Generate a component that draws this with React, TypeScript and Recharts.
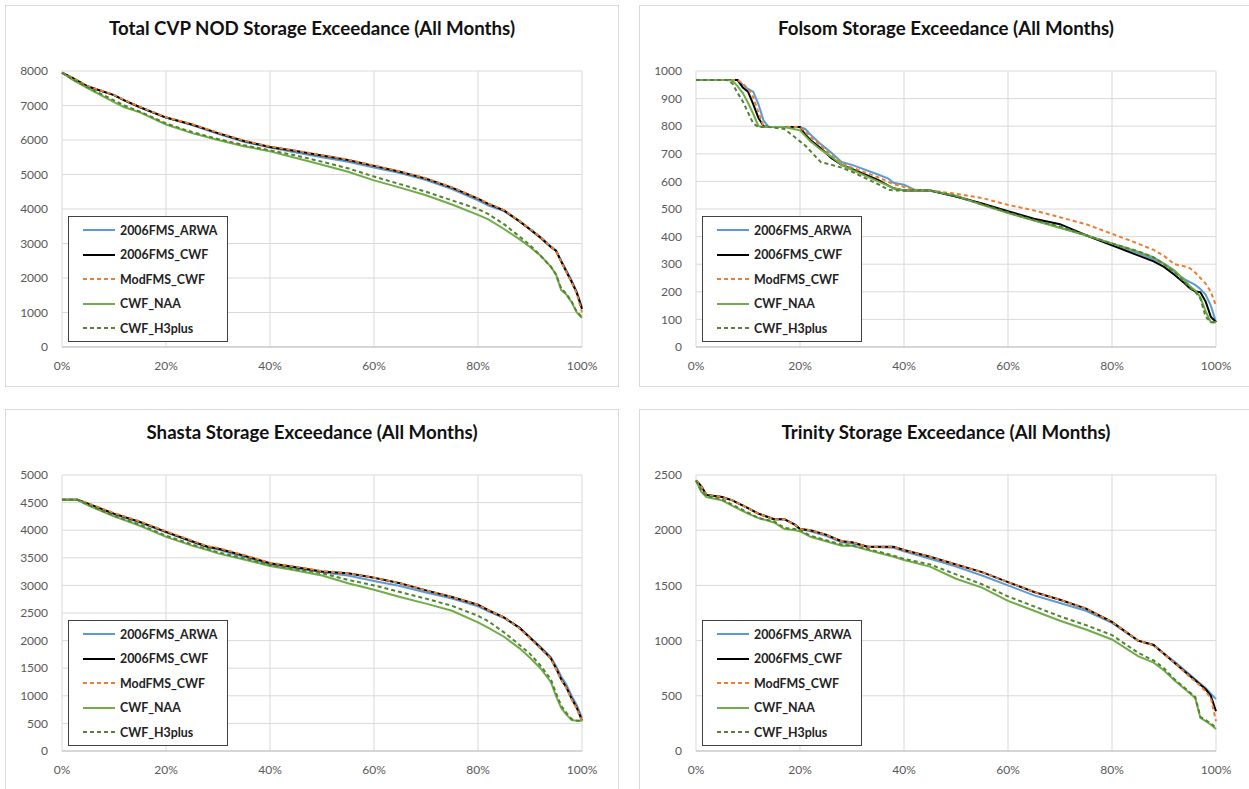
import React from "react";
import { LineChart, Line, XAxis, YAxis, CartesianGrid, Legend } from "recharts";

// series names, shared by all four charts
const seriesNames = ["2006FMS_ARWA", "2006FMS_CWF", "ModFMS_CWF", "CWF_NAA", "CWF_H3plus"];

// Total CVP NOD storage (TAF) by exceedance %
const nodX = [0, 2, 5, 10, 12, 15, 20, 25, 30, 35, 40, 45, 50, 55, 60, 65, 70, 75, 80, 82, 85, 88, 90, 92, 94, 95, 96, 97, 98, 99, 100];
const nodArwa = [7950, 7800, 7550, 7300, 7150, 6950, 6650, 6430, 6180, 5950, 5780, 5640, 5500, 5370, 5200, 5040, 4840, 4580, 4250, 4100, 3940, 3640, 3420, 3190, 2920, 2800, 2500, 2220, 1930, 1600, 1150];
const nodCwf = [7950, 7800, 7550, 7300, 7150, 6950, 6650, 6450, 6200, 5970, 5800, 5680, 5550, 5420, 5250, 5080, 4880, 4620, 4300, 4150, 3960, 3640, 3410, 3170, 2900, 2790, 2480, 2180, 1890, 1570, 1100];
const nodMod = [7950, 7810, 7560, 7310, 7160, 6960, 6660, 6460, 6210, 5980, 5810, 5690, 5560, 5430, 5260, 5090, 4890, 4630, 4310, 4160, 3970, 3650, 3420, 3180, 2910, 2790, 2470, 2170, 1880, 1550, 1000];
const nodNaa = [7950, 7750, 7500, 7100, 6950, 6800, 6450, 6200, 6000, 5820, 5670, 5480, 5280, 5080, 4830, 4620, 4400, 4130, 3830, 3700, 3420, 3120, 2900, 2650, 2330, 2100, 1650, 1520, 1300, 1000, 850];
const nodH3 = [7950, 7760, 7520, 7150, 7000, 6820, 6480, 6230, 6030, 5850, 5700, 5550, 5370, 5180, 4940, 4720, 4500, 4250, 4000, 3850, 3560, 3200, 2950, 2650, 2330, 2100, 1700, 1540, 1320, 1020, 870];

// Folsom storage
const folX = [0, 6, 7, 8, 9, 10, 11, 12, 13, 14, 17, 20, 21, 22, 24, 26, 28, 30, 35, 37, 38, 40, 42, 45, 50, 55, 60, 65, 70, 75, 80, 85, 88, 90, 92, 94, 95, 96, 97, 98, 99, 100];
const folArwa = [967, 967, 967, 967, 950, 935, 925, 880, 820, 797, 797, 797, 790, 770, 735, 705, 670, 660, 625, 610, 595, 588, 570, 567, 545, 518, 487, 460, 432, 405, 372, 340, 318, 300, 272, 245, 235, 225, 210, 190, 150, 90];
const folCwf = [967, 967, 967, 967, 940, 925, 880, 830, 800, 797, 797, 797, 770, 750, 720, 685, 660, 645, 605, 585, 575, 567, 567, 567, 545, 520, 492, 465, 445, 405, 368, 332, 310, 290, 262, 230, 212, 202, 198, 165, 110, 90];
const folMod = [967, 967, 967, 967, 955, 935, 905, 850, 800, 797, 797, 797, 780, 760, 730, 695, 665, 650, 615, 598, 590, 580, 570, 567, 555, 540, 515, 495, 470, 445, 410, 375, 352, 330, 300, 292, 285, 270, 250, 230, 200, 150];
const folNaa = [967, 967, 965, 945, 920, 885, 845, 800, 797, 797, 797, 785, 765, 745, 715, 690, 660, 642, 600, 585, 575, 567, 567, 567, 548, 515, 485, 458, 432, 405, 375, 345, 325, 302, 278, 240, 220, 205, 180, 130, 90, 90];
const folH3 = [967, 967, 955, 920, 890, 850, 810, 797, 797, 797, 790, 745, 730, 710, 670, 660, 650, 635, 590, 570, 567, 567, 567, 567, 547, 517, 488, 460, 437, 405, 375, 347, 325, 300, 270, 235, 215, 200, 175, 110, 90, 90];

// Shasta storage
const shaX = [0, 3, 5, 10, 15, 20, 25, 28, 30, 35, 40, 45, 50, 55, 60, 65, 70, 75, 80, 82, 85, 88, 90, 92, 94, 95, 96, 97, 98, 99, 100];
const shaArwa = [4550, 4550, 4470, 4290, 4140, 3960, 3790, 3690, 3650, 3520, 3380, 3310, 3240, 3180, 3080, 2990, 2870, 2760, 2620, 2530, 2410, 2230, 2060, 1890, 1700, 1540, 1350, 1200, 1000, 830, 600];
const shaCwf = [4550, 4550, 4480, 4300, 4150, 3970, 3800, 3700, 3670, 3540, 3400, 3330, 3250, 3220, 3140, 3040, 2910, 2790, 2650, 2550, 2420, 2230, 2050, 1870, 1680, 1500, 1300, 1150, 950, 780, 550];
const shaMod = [4550, 4550, 4490, 4310, 4160, 3980, 3810, 3710, 3680, 3550, 3410, 3340, 3260, 3220, 3140, 3040, 2910, 2790, 2650, 2550, 2420, 2220, 2040, 1860, 1670, 1490, 1290, 1140, 940, 770, 540];
const shaNaa = [4550, 4550, 4450, 4250, 4080, 3880, 3720, 3640, 3580, 3470, 3350, 3270, 3180, 3040, 2920, 2790, 2670, 2540, 2330, 2230, 2070, 1860, 1690, 1500, 1250, 1000, 780, 660, 560, 550, 550];
const shaH3 = [4550, 4550, 4460, 4260, 4100, 3900, 3740, 3660, 3600, 3490, 3370, 3290, 3220, 3100, 3000, 2880, 2760, 2630, 2450, 2350, 2150, 1920, 1760, 1550, 1300, 1050, 820, 690, 580, 550, 550];

// Trinity storage
const triX = [0, 1, 2, 5, 7, 10, 12, 15, 17, 19, 20, 22, 25, 28, 30, 33, 38, 40, 45, 50, 55, 60, 65, 70, 75, 80, 85, 88, 90, 92, 95, 96, 97, 98, 99, 100];
const triArwa = [2450, 2400, 2320, 2300, 2270, 2200, 2150, 2100, 2100, 2050, 2010, 1990, 1950, 1890, 1880, 1850, 1840, 1810, 1740, 1670, 1590, 1500, 1410, 1340, 1270, 1160, 1000, 960, 880, 810, 690, 650, 610, 570, 520, 470];
const triCwf = [2450, 2400, 2320, 2300, 2270, 2200, 2150, 2100, 2100, 2050, 2010, 2000, 1960, 1900, 1890, 1850, 1850, 1820, 1760, 1690, 1620, 1530, 1440, 1370, 1290, 1170, 1000, 960, 880, 800, 680, 640, 600, 560, 500, 360];
const triMod = [2450, 2400, 2320, 2300, 2270, 2200, 2150, 2100, 2100, 2050, 2010, 2000, 1960, 1900, 1890, 1850, 1850, 1820, 1760, 1690, 1620, 1530, 1440, 1370, 1290, 1170, 1000, 960, 880, 800, 670, 630, 590, 540, 480, 270];
const triNaa = [2450, 2350, 2300, 2270, 2220, 2150, 2110, 2070, 2010, 2000, 1990, 1940, 1900, 1860, 1860, 1820, 1760, 1730, 1670, 1560, 1480, 1360, 1270, 1180, 1100, 1010, 860, 800, 730, 640, 520, 480, 300, 270, 240, 200];
const triH3 = [2450, 2360, 2310, 2280, 2230, 2160, 2110, 2080, 2020, 2010, 2000, 1950, 1910, 1870, 1860, 1830, 1770, 1740, 1690, 1600, 1510, 1400, 1310, 1220, 1140, 1050, 890, 820, 750, 650, 530, 490, 310, 280, 250, 210];

const xTicks = [0, 20, 40, 60, 80, 100];

const lineStyle: Record<string, { color: string; dash?: string }> = {
  "2006FMS_ARWA": { color: "#5b9bd5" },
  "2006FMS_CWF": { color: "#000000" },
  ModFMS_CWF: { color: "#ed7d31", dash: "4 3" },
  CWF_NAA: { color: "#70ad47" },
  CWF_H3plus: { color: "#548235", dash: "4 3" },
};

const FONT = "Lato, 'Noto Sans', sans-serif";

function toRows(xs: number[], cols: number[][]) {
  return xs.map((x, i) => {
    const row: Record<string, number> = { x };
    seriesNames.forEach((name, j) => {
      row[name] = cols[j][i];
    });
    return row;
  });
}

function LegendBox() {
  return (
    <div
      style={{
        width: 160,
        height: 126,
        border: "1px solid #404040",
        boxSizing: "border-box",
        background: "#fff",
        paddingTop: 1,
        fontFamily: FONT,
        fontSize: 12.4,
        fontWeight: 700,
        color: "#222",
      }}
    >
      {seriesNames.map((name) => (
        <div key={name} style={{ display: "flex", alignItems: "center", height: 24.5 }}>
          <svg width={51} height={8} style={{ flex: "none" }}>
            <line
              x1={14}
              x2={46}
              y1={4}
              y2={4}
              stroke={lineStyle[name].color}
              strokeWidth={2}
              strokeDasharray={lineStyle[name].dash}
            />
          </svg>
          <span>{name}</span>
        </div>
      ))}
    </div>
  );
}

function Panel({
  left,
  top,
  title,
  rows,
  yMax,
  yTicks,
}: {
  left: number;
  top: number;
  title: string;
  rows: Record<string, number>[];
  yMax: number;
  yTicks: number[];
}) {
  return (
    <div
      style={{
        position: "absolute",
        left,
        top,
        width: 614,
        height: 382,
        border: "1px solid #d9d9d9",
        boxSizing: "border-box",
        background: "#fff",
      }}
    >
      <div
        style={{
          position: "absolute",
          left: 0,
          top: 11,
          width: 612,
          textAlign: "center",
          fontFamily: FONT,
          fontSize: 18.7,
          fontWeight: 700,
          color: "#111",
          lineHeight: "22px",
        }}
      >
        {title}
      </div>
      <LineChart width={612} height={380} data={rows} margin={{ top: 65, right: 36, bottom: 9, left: 6 }}>
        <CartesianGrid stroke="#d9d9d9" />
        <XAxis
          dataKey="x"
          type="number"
          domain={[0, 100]}
          ticks={xTicks}
          interval={0}
          tickFormatter={(v) => `${v}%`}
          axisLine={{ stroke: "#bfbfbf" }}
          tickLine={false}
          tickMargin={8}
          height={30}
          tick={{ fill: "#595959", fontSize: 12, fontFamily: FONT }}
        />
        <YAxis
          type="number"
          domain={[0, yMax]}
          ticks={yTicks}
          interval={0}
          axisLine={false}
          tickLine={false}
          tickMargin={8}
          width={50}
          tick={{ fill: "#595959", fontSize: 12, fontFamily: FONT }}
        />
        {seriesNames.map((name) => (
          <Line
            key={name}
            type="linear"
            dataKey={name}
            stroke={lineStyle[name].color}
            strokeWidth={2}
            strokeDasharray={lineStyle[name].dash}
            dot={false}
            activeDot={false}
            isAnimationActive={false}
          />
        ))}
        <Legend
          layout="vertical"
          align="center"
          verticalAlign="middle"
          wrapperStyle={{ left: 62, top: 210, width: 160, height: 126 }}
          content={() => <LegendBox />}
        />
      </LineChart>
    </div>
  );
}

export default function App() {
  return (
    <div
      style={{
        position: "absolute",
        left: 0,
        top: 0,
        width: 1249,
        height: 789,
        overflow: "hidden",
        background: "#fff",
      }}
    >
      <Panel
        left={5}
        top={5}
        title="Total CVP NOD Storage Exceedance (All Months)"
        rows={toRows(nodX, [nodArwa, nodCwf, nodMod, nodNaa, nodH3])}
        yMax={8000}
        yTicks={[0, 1000, 2000, 3000, 4000, 5000, 6000, 7000, 8000]}
      />
      <Panel
        left={639}
        top={5}
        title="Folsom Storage Exceedance (All Months)"
        rows={toRows(folX, [folArwa, folCwf, folMod, folNaa, folH3])}
        yMax={1000}
        yTicks={[0, 100, 200, 300, 400, 500, 600, 700, 800, 900, 1000]}
      />
      <Panel
        left={5}
        top={409}
        title="Shasta Storage Exceedance (All Months)"
        rows={toRows(shaX, [shaArwa, shaCwf, shaMod, shaNaa, shaH3])}
        yMax={5000}
        yTicks={[0, 500, 1000, 1500, 2000, 2500, 3000, 3500, 4000, 4500, 5000]}
      />
      <Panel
        left={639}
        top={409}
        title="Trinity Storage Exceedance (All Months)"
        rows={toRows(triX, [triArwa, triCwf, triMod, triNaa, triH3])}
        yMax={2500}
        yTicks={[0, 500, 1000, 1500, 2000, 2500]}
      />
    </div>
  );
}
